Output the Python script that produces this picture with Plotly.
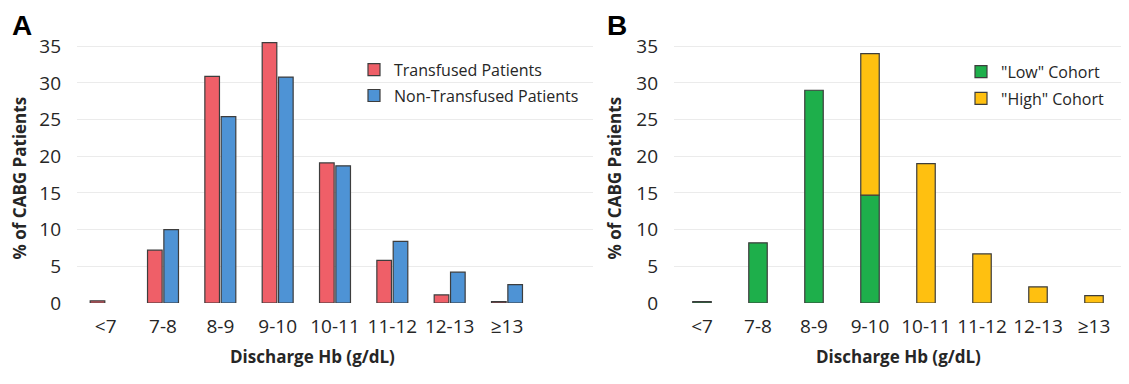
import plotly.graph_objects as go

categories = ["<7", "7-8", "8-9", "9-10", "10-11", "11-12", "12-13", "≥13"]

# Panel A
transfused = [0.3, 7.2, 30.9, 35.5, 19.1, 5.8, 1.1, 0.2]
non_transfused = [None, 10.0, 25.4, 30.8, 18.7, 8.4, 4.2, 2.5]

# Panel B
low_cohort = [0.2, 8.2, 29.0, 14.7, 0, 0, 0, 0]
high_cohort = [0, 0, 0, 19.3, 19.0, 6.7, 2.2, 1.0]

y_ticks = [0, 5, 10, 15, 20, 25, 30, 35]

# page body has an 8px default margin; positions below are screen pixels
OFF = 8
W, H = 1129 - OFF, 384 - OFF
FONT = "Open Sans"
TXT = "#262626"
OUTLINE = dict(color="#3d3d3d", width=1.2)

Y_MAX = 35.7
PX_PER_UNIT = (312 - 40) / 35.0


def px(x):
    return (x - OFF) / W


def py(y):
    return 1 - (y - OFF) / H


fig = go.Figure()

fig.add_trace(go.Bar(x=categories, y=transfused, name="Transfused Patients",
                     marker=dict(color="#EF5F68", line=OUTLINE), legendgroup="t",
                     width=0.255, offset=-0.27,
                     xaxis="x", yaxis="y", legend="legend"))
fig.add_trace(go.Bar(x=categories, y=non_transfused, name="Non-Transfused Patients",
                     marker=dict(color="#4E93D5", line=OUTLINE), legendgroup="n",
                     width=0.255, offset=0.015,
                     xaxis="x", yaxis="y", legend="legend"))

low_plot = [v if v > 0 else None for v in low_cohort]
high_plot = [v if v > 0 else None for v in high_cohort]
fig.add_trace(go.Bar(x=categories, y=low_plot, name='"Low" Cohort',
                     marker=dict(color="#1EAF4B", line=OUTLINE), legendgroup="l",
                     width=0.33, offset=-0.165, xaxis="x2", yaxis="y2", legend="legend2"))
fig.add_trace(go.Bar(x=categories, y=high_plot, base=low_cohort, name='"High" Cohort',
                     marker=dict(color="#FFC010", line=OUTLINE), legendgroup="h",
                     width=0.33, offset=-0.165, xaxis="x2", yaxis="y2", legend="legend2"))

ydom = [py(312), py(312 - Y_MAX * PX_PER_UNIT)]
yax = dict(range=[0, Y_MAX], tickvals=y_ticks, showgrid=True, gridcolor="#EBEBEB",
           gridwidth=1, zeroline=False, showline=False, ticks="",
           tickfont=dict(family=FONT, size=19, color=TXT), ticklabelstandoff=15,
           domain=ydom)
xax = dict(type="category", categoryorder="array", categoryarray=categories,
           showgrid=False, zeroline=False, showline=False, ticks="",
           tickfont=dict(family=FONT, size=19, color=TXT), ticklabelstandoff=10)

fig.update_layout(
    width=W, height=H,
    margin=dict(l=0, r=0, t=0, b=0),
    paper_bgcolor="white", plot_bgcolor="white",
    barmode="overlay",
    showlegend=True,
    xaxis=dict(xax, domain=[px(77), px(593)], range=[-0.5, 8.5], anchor="y"),
    yaxis=dict(yax, anchor="x"),
    xaxis2=dict(xax, domain=[px(674), px(1122)], range=[-0.5, 7.5], anchor="y2"),
    yaxis2=dict(yax, anchor="x2"),
    legend=dict(x=px(354), y=py(47), xanchor="left", yanchor="top",
                font=dict(family=FONT, size=16, color=TXT), itemwidth=30,
                bgcolor="rgba(0,0,0,0)", tracegroupgap=2),
    legend2=dict(x=px(961), y=py(49), xanchor="left", yanchor="top",
                 font=dict(family=FONT, size=16, color=TXT), itemwidth=30,
                 bgcolor="rgba(0,0,0,0)", tracegroupgap=3),
)

ann = []
ann.append(dict(text="<b>A</b>", x=px(22), y=py(18), xref="paper", yref="paper",
                xanchor="center", yanchor="middle", showarrow=False,
                font=dict(family="Liberation Sans", size=28, color="black")))
ann.append(dict(text="<b>B</b>", x=px(617), y=py(18), xref="paper", yref="paper",
                xanchor="center", yanchor="middle", showarrow=False,
                font=dict(family="Liberation Sans", size=28, color="black")))
for xc in (19, 614):
    ann.append(dict(text="<b>% of CABG Patients</b>", x=px(xc), y=py(180), xref="paper",
                    yref="paper", xanchor="center", yanchor="middle",
                    showarrow=False, textangle=-90,
                    font=dict(family=FONT, size=17, color=TXT)))
for xc in (312, 898):
    ann.append(dict(text="<b>Discharge Hb (g/dL)</b>", x=px(xc), y=py(369), xref="paper",
                    yref="paper", xanchor="center", yanchor="middle", showarrow=False,
                    font=dict(family=FONT, size=17, color=TXT)))
fig.update_layout(annotations=ann)

fig.write_html("out.html")
